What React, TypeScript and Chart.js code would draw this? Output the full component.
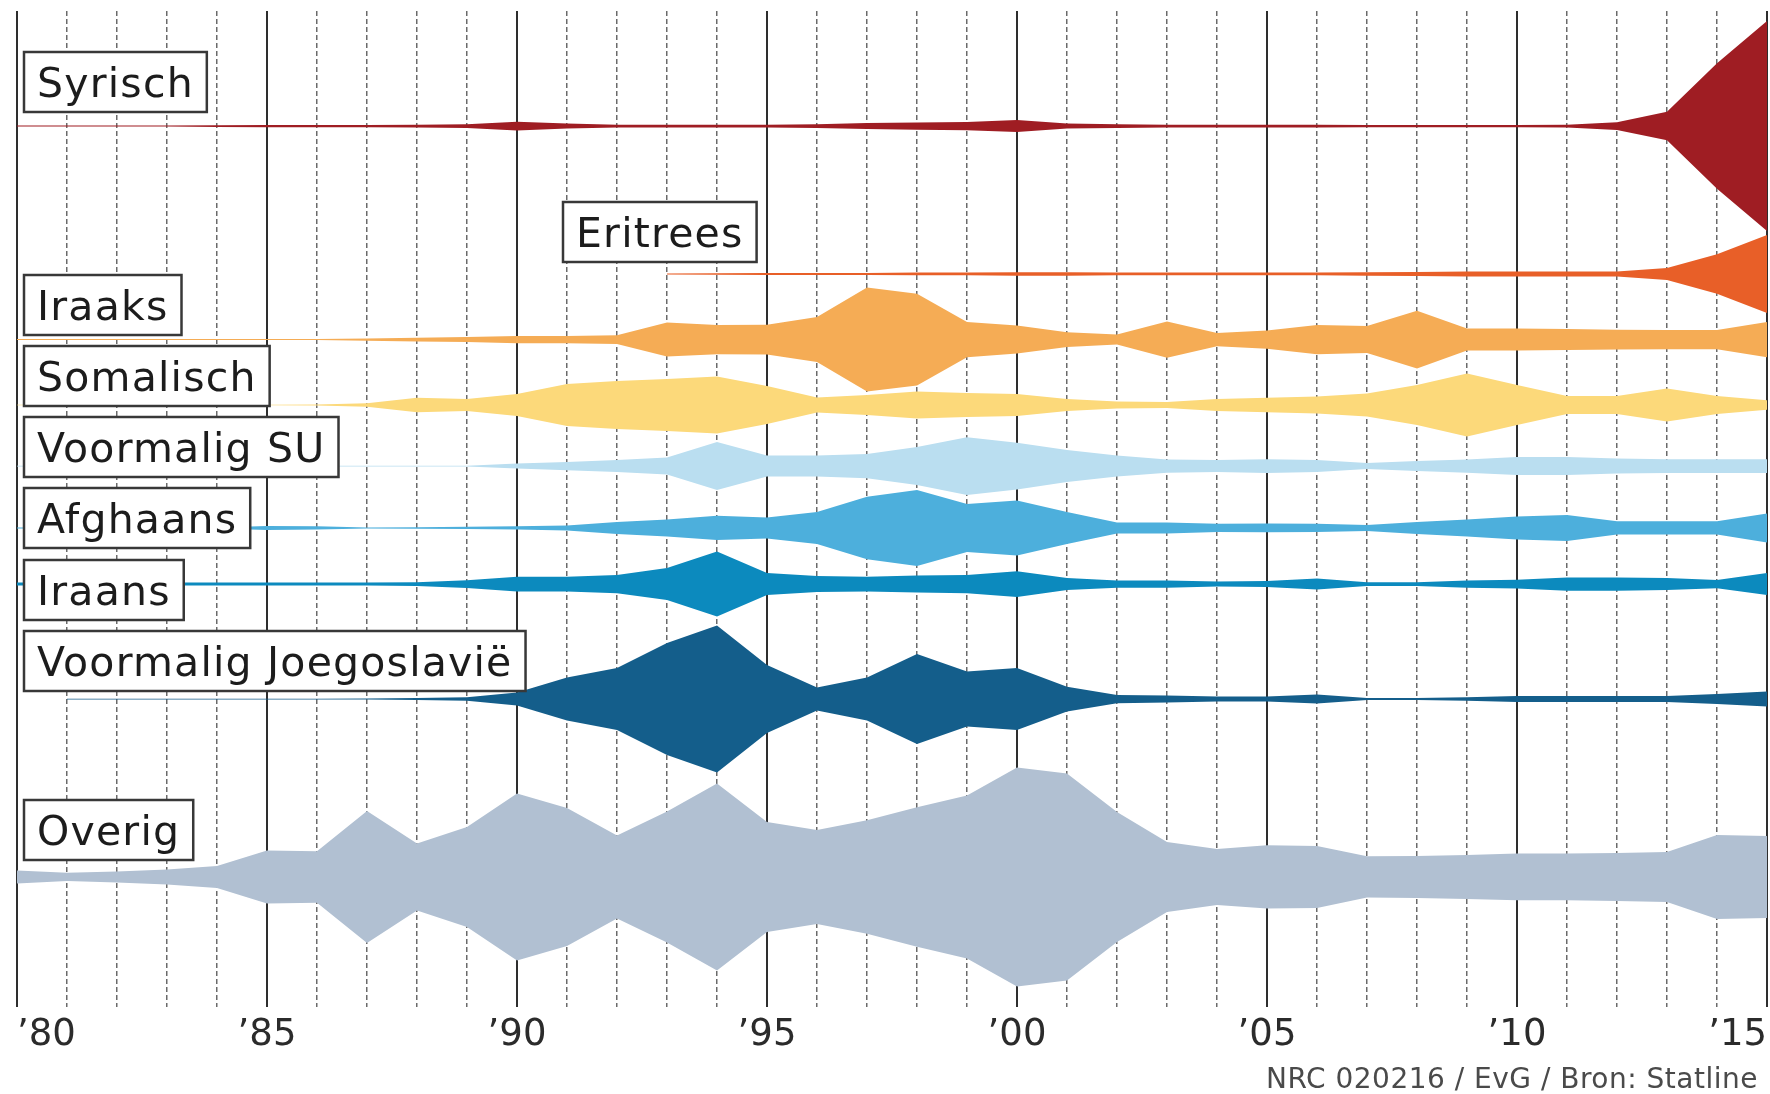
import React, { useEffect, useRef } from 'react';
import { Chart, registerables } from 'chart.js';

Chart.register(...registerables);

// ---------- data (asylum applications, thousands) ----------
const YEARS = [
  1980, 1981, 1982, 1983, 1984, 1985, 1986, 1987, 1988, 1989,
  1990, 1991, 1992, 1993, 1994, 1995, 1996, 1997, 1998, 1999,
  2000, 2001, 2002, 2003, 2004, 2005, 2006, 2007, 2008, 2009,
  2010, 2011, 2012, 2013, 2014, 2015,
];

const TICK_YEARS = [1980, 1985, 1990, 1995, 2000, 2005, 2010, 2015];
const TICK_LABELS = ['’80', '’85', '’90', '’95', '’00', '’05', '’10', '’15'];

const SERIES_NAMES = [
  'Syrisch',
  'Eritrees',
  'Iraaks',
  'Somalisch',
  'Voormalig SU',
  'Afghaans',
  'Iraans',
  'Voormalig Joegoslavië',
  'Overig',
];

const SYRISCH = [
  0.1, 0.1, 0.1, 0.1, 0.15, 0.2, 0.2, 0.2, 0.25, 0.35,
  0.8, 0.45, 0.25, 0.25, 0.25, 0.25, 0.35, 0.55, 0.65, 0.75,
  1.1, 0.45, 0.35, 0.25, 0.25, 0.25, 0.25, 0.2, 0.2, 0.2,
  0.2, 0.25, 0.7, 2.6, 11.4, 19.1,
];
const ERITREES = [
  null, null, null, null, null, null, null, null, null, null,
  null, null, null, 0.1, 0.15, 0.2, 0.2, 0.2, 0.25, 0.25,
  0.3, 0.3, 0.25, 0.25, 0.25, 0.25, 0.25, 0.3, 0.35, 0.45,
  0.45, 0.45, 0.45, 1.1, 3.6, 7.1,
];
const IRAAKS = [
  0.1, 0.1, 0.1, 0.1, 0.1, 0.1, 0.1, 0.2, 0.35, 0.45,
  0.65, 0.65, 0.8, 3.1, 2.65, 2.7, 4.1, 9.45, 8.35, 3.2,
  2.55, 1.35, 0.9, 3.3, 1.2, 1.65, 2.65, 2.45, 5.25, 2.0,
  2.0, 1.9, 1.8, 1.75, 1.75, 3.2,
];
const SOMALISCH = [
  0.06, 0.06, 0.06, 0.06, 0.06, 0.06, 0.1, 0.3, 1.3, 1.1,
  2.0, 3.8, 4.35, 4.75, 5.2, 3.45, 1.35, 1.8, 2.45, 2.2,
  2.0, 1.1, 0.65, 0.55, 1.1, 1.3, 1.55, 2.1, 3.65, 5.75,
  3.65, 1.65, 1.65, 3.0, 1.65, 0.85,
];
const VOORMALIG_SU = [
  0.06, 0.06, 0.06, 0.06, 0.06, 0.06, 0.06, 0.06, 0.06, 0.06,
  0.45, 0.75, 1.1, 1.55, 4.35, 1.9, 1.9, 2.2, 3.45, 5.25,
  4.25, 2.9, 1.9, 1.2, 1.1, 1.25, 1.1, 0.55, 0.9, 1.2,
  1.65, 1.65, 1.35, 1.25, 1.25, 1.25,
];
const AFGHAANS = [
  0.1, 0.1, 0.1, 0.1, 0.1, 0.35, 0.3, 0.1, 0.15, 0.2,
  0.3, 0.45, 1.1, 1.55, 2.2, 1.9, 2.9, 5.7, 6.9, 4.35,
  5.0, 2.9, 1.0, 1.0, 0.75, 0.8, 0.75, 0.55, 1.1, 1.55,
  2.1, 2.35, 1.2, 1.2, 1.2, 2.65,
];
const IRAANS = [
  0.27, 0.27, 0.27, 0.27, 0.27, 0.27, 0.27, 0.27, 0.35, 0.7,
  1.35, 1.35, 1.65, 2.9, 5.9, 2.0, 1.45, 1.35, 1.55, 1.65,
  2.35, 1.1, 0.65, 0.65, 0.45, 0.55, 1.0, 0.35, 0.35, 0.65,
  0.8, 1.2, 1.2, 1.1, 0.75, 2.0,
];
const JOEGOSLAVIE = [
  null, 0.07, 0.07, 0.07, 0.07, 0.07, 0.07, 0.1, 0.2, 0.3,
  1.2, 3.9, 5.65, 10.2, 13.35, 6.2, 2.1, 3.9, 8.2, 5.0,
  5.65, 2.25, 0.75, 0.65, 0.45, 0.45, 0.8, 0.2, 0.2, 0.3,
  0.55, 0.55, 0.55, 0.55, 0.9, 1.35,
];
const OVERIG = [
  1.2, 0.75, 1.0, 1.35, 2.0, 4.8, 4.7, 12.0, 6.1, 9.1,
  15.2, 12.55, 7.55, 11.9, 17.0, 10.0, 8.55, 10.3, 12.7, 14.8,
  19.9, 18.8, 11.8, 6.35, 5.1, 5.75, 5.65, 3.75, 3.8, 4.0,
  4.25, 4.25, 4.35, 4.55, 7.65, 7.45,
];

const SERIES_VALUES = [
  SYRISCH, ERITREES, IRAAKS, SOMALISCH, VOORMALIG_SU, AFGHAANS, IRAANS, JOEGOSLAVIE, OVERIG,
];

const FOOTER = 'NRC 020216 / EvG / Bron: Statline';

// ---------- layout & style ----------
const COLORS = [
  '#9f1d23', '#e85f28', '#f5ac55', '#fcd97a', '#badef0',
  '#4dafdc', '#0c8abe', '#145e8b', '#b1c0d2',
];
// baseline (centre) of each stream, in y-axis units
const LANE_CENTERS = [80.09, 66.64, 60.68, 54.73, 49.18, 43.55, 38.45, 28.0, 11.82];
const Y_MAX = 90.55;
// label boxes (pixels)
const LABEL_BOXES = [
  { left: 24, top: 52 },
  { left: 563, top: 202 },
  { left: 24, top: 275 },
  { left: 24, top: 346 },
  { left: 24, top: 417 },
  { left: 24, top: 488 },
  { left: 24, top: 560 },
  { left: 24, top: 631 },
  { left: 24, top: 800 },
];
const LABEL_H = 60;
const LABEL_PAD = 13;
const FONT = '"DejaVu Sans", "Open Sans", sans-serif';

const overlayPlugin = {
  id: 'overlay',
  afterDraw(chart: any) {
    const ctx = chart.ctx as CanvasRenderingContext2D;
    ctx.save();
    ctx.font = `41px ${FONT}`;
    (ctx as any).letterSpacing = '1.2px';
    ctx.textAlign = 'left';
    ctx.textBaseline = 'alphabetic';
    SERIES_NAMES.forEach((name, i) => {
      const b = LABEL_BOXES[i];
      const w = ctx.measureText(name).width + 2 * LABEL_PAD;
      ctx.fillStyle = '#ffffff';
      ctx.fillRect(b.left, b.top, w, LABEL_H);
      ctx.lineWidth = 2.5;
      ctx.strokeStyle = '#383838';
      ctx.strokeRect(b.left, b.top, w, LABEL_H);
      ctx.fillStyle = '#1c1c1c';
      ctx.fillText(name, b.left + LABEL_PAD, b.top + 45);
    });
    (ctx as any).letterSpacing = '0.5px';
    ctx.font = `28px ${FONT}`;
    ctx.fillStyle = '#4a4a4a';
    ctx.textAlign = 'right';
    ctx.fillText(FOOTER, 1758, 1088);
    ctx.restore();
  },
};

export default function App() {
  const ref = useRef<HTMLCanvasElement>(null);

  useEffect(() => {
    const canvas = ref.current;
    if (!canvas) return;
    const datasets: any[] = [];
    SERIES_NAMES.forEach((name, i) => {
      const c = LANE_CENTERS[i];
      const vals = SERIES_VALUES[i];
      const upper: { x: number; y: number }[] = [];
      const lower: { x: number; y: number }[] = [];
      YEARS.forEach((yr, j) => {
        const v = vals[j];
        if (v == null) return;
        upper.push({ x: yr, y: c + v / 2 });
        lower.push({ x: yr, y: c - v / 2 });
      });
      const common = {
        borderColor: 'rgba(0,0,0,0)',
        borderWidth: 0,
        pointRadius: 0,
        pointHoverRadius: 0,
        tension: 0,
        backgroundColor: COLORS[i],
        xAxisID: 'x',
        yAxisID: 'y',
      };
      datasets.push({ ...common, label: name, data: upper, fill: '+1' });
      datasets.push({ ...common, label: name + ' (onder)', data: lower, fill: false });
    });

    const chart = new Chart(canvas, {
      type: 'line',
      data: { datasets },
      options: {
        responsive: false,
        animation: false,
        devicePixelRatio: 1,
        layout: { padding: { left: 17, right: 3, top: 11, bottom: 36.6 } },
        plugins: {
          legend: { display: false },
          tooltip: { enabled: false },
        },
        scales: {
          x: {
            type: 'linear',
            position: 'bottom',
            min: 1980,
            max: 2015,
            z: 1,
            grid: {
              color: '#2e2e2e',
              lineWidth: 2,
              drawTicks: true,
              tickLength: 6,
              tickColor: 'rgba(0,0,0,0)',
            },
            border: { display: false },
            ticks: {
              stepSize: 5,
              autoSkip: false,
              maxRotation: 0,
              align: 'inner',
              padding: 0,
              color: '#2b2b2b',
              font: { family: FONT, size: 37, lineHeight: 1.2 },
              callback: (v: any) => {
                const k = TICK_YEARS.indexOf(Number(v));
                return k >= 0 ? TICK_LABELS[k] : '';
              },
            },
          },
          x2: {
            type: 'linear',
            position: 'bottom',
            min: 1980,
            max: 2015,
            z: 1,
            grid: {
              color: (c: any) =>
                c.tick && Number(c.tick.value) % 5 !== 0 ? '#6a6a6a' : 'rgba(0,0,0,0)',
              lineWidth: 1.5,
              drawTicks: false,
            },
            border: { display: false, dash: [5, 3] },
            ticks: { stepSize: 1, display: false, autoSkip: false },
          },
          y: { display: false, min: 0, max: Y_MAX },
        },
      } as any,
      plugins: [overlayPlugin],
    });
    return () => chart.destroy();
  }, []);

  return (
    <div
      style={{
        position: 'fixed',
        left: 0,
        top: 0,
        width: 1770,
        height: 1094,
        background: '#ffffff',
      }}
    >
      <canvas ref={ref} width={1770} height={1094} style={{ display: 'block' }} />
    </div>
  );
}
